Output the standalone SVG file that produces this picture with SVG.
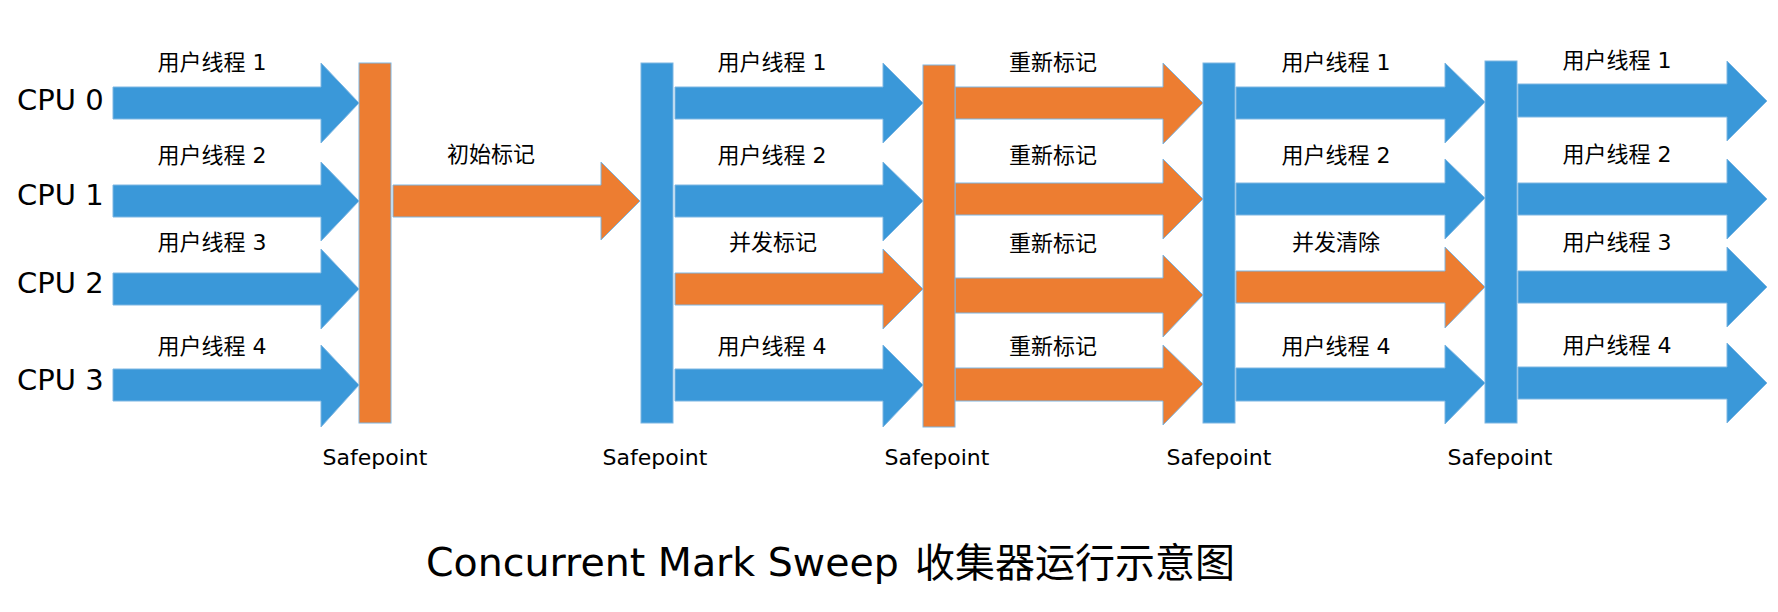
<svg xmlns="http://www.w3.org/2000/svg" width="1778" height="612" viewBox="0 0 1778 612">
<style>
.b{fill:#3A98D9;stroke:#7DB6E2;stroke-width:1}
.o{fill:#ED7D31;stroke:#7DB6E2;stroke-width:1}
.lbl{font-family:"DejaVu Sans","Noto Sans CJK SC",sans-serif;font-size:22px;fill:#000;text-anchor:middle}
.cpu{font-family:"DejaVu Sans",sans-serif;font-size:29px;fill:#000}
.sp{font-family:"DejaVu Sans",sans-serif;font-size:22px;fill:#000;text-anchor:middle}
.title{font-family:"DejaVu Sans",sans-serif;font-size:39.5px;fill:#000}
.titlecjk{font-family:"Noto Sans CJK SC",sans-serif;font-size:40px;fill:#000}
</style>
<rect width="1778" height="612" fill="#fff"/>

<g id="cpu-labels">
<text class="cpu" x="17" y="110">CPU 0</text>
<text class="cpu" x="17" y="205">CPU 1</text>
<text class="cpu" x="17" y="293">CPU 2</text>
<text class="cpu" x="17" y="390">CPU 3</text>
</g>

<g id="connectors">
<g id="c1r0"><polygon class="b" points="113,87 321,87 321,63 359,103 321,143 321,119 113,119"/><text class="lbl" x="212" y="70">用户线程 1</text></g>
<g id="c1r1"><polygon class="b" points="113,185 321,185 321,162 359,201 321,241 321,217 113,217"/><text class="lbl" x="212" y="163">用户线程 2</text></g>
<g id="c1r2"><polygon class="b" points="113,273 321,273 321,249 359,289 321,329 321,305 113,305"/><text class="lbl" x="212" y="250">用户线程 3</text></g>
<g id="c1r3"><polygon class="b" points="113,369 321,369 321,345 359,385 321,427 321,401 113,401"/><text class="lbl" x="212" y="354">用户线程 4</text></g>

<g id="init-mark"><polygon class="o" points="393,185 601,185 601,162 640,201 601,240 601,217 393,217"/><text class="lbl" x="491" y="162">初始标记</text></g>

<g id="c2r0"><polygon class="b" points="675,87 883,87 883,63 923,103 883,143 883,119 675,119"/><text class="lbl" x="772" y="70">用户线程 1</text></g>
<g id="c2r1"><polygon class="b" points="675,185 883,185 883,162 923,201 883,241 883,217 675,217"/><text class="lbl" x="772" y="163">用户线程 2</text></g>
<g id="c2r2"><polygon class="o" points="675,273 883,273 883,249 923,289 883,329 883,305 675,305"/><text class="lbl" x="773" y="250">并发标记</text></g>
<g id="c2r3"><polygon class="b" points="675,369 883,369 883,345 923,385 883,427 883,401 675,401"/><text class="lbl" x="772" y="354">用户线程 4</text></g>

<g id="c3r0"><polygon class="o" points="955,87 1163,87 1163,63 1203,103 1163,144 1163,119 955,119"/><text class="lbl" x="1053" y="70">重新标记</text></g>
<g id="c3r1"><polygon class="o" points="955,183 1163,183 1163,159 1203,199 1163,239 1163,215 955,215"/><text class="lbl" x="1053" y="163">重新标记</text></g>
<g id="c3r2"><polygon class="o" points="955,278 1163,278 1163,255 1203,295 1163,337 1163,313 955,313"/><text class="lbl" x="1053" y="251">重新标记</text></g>
<g id="c3r3"><polygon class="o" points="955,368 1163,368 1163,345 1203,384 1163,425 1163,401 955,401"/><text class="lbl" x="1053" y="354">重新标记</text></g>

<g id="c4r0"><polygon class="b" points="1236,87 1445,87 1445,63 1485,102 1445,143 1445,119 1236,119"/><text class="lbl" x="1336" y="70">用户线程 1</text></g>
<g id="c4r1"><polygon class="b" points="1236,183 1445,183 1445,159 1485,198 1445,239 1445,215 1236,215"/><text class="lbl" x="1336" y="163">用户线程 2</text></g>
<g id="c4r2"><polygon class="o" points="1236,271 1445,271 1445,247 1485,287 1445,328 1445,303 1236,303"/><text class="lbl" x="1336" y="250">并发清除</text></g>
<g id="c4r3"><polygon class="b" points="1236,368 1445,368 1445,345 1485,383 1445,424 1445,401 1236,401"/><text class="lbl" x="1336" y="354">用户线程 4</text></g>

<g id="c5r0"><polygon class="b" points="1518,84 1727,84 1727,61 1767,101 1727,141 1727,117 1518,117"/><text class="lbl" x="1617" y="68">用户线程 1</text></g>
<g id="c5r1"><polygon class="b" points="1518,183 1727,183 1727,159 1767,199 1727,239 1727,215 1518,215"/><text class="lbl" x="1617" y="162">用户线程 2</text></g>
<g id="c5r2"><polygon class="b" points="1518,271 1727,271 1727,247 1767,287 1727,327 1727,303 1518,303"/><text class="lbl" x="1617" y="250">用户线程 3</text></g>
<g id="c5r3"><polygon class="b" points="1518,367 1727,367 1727,343 1767,383 1727,423 1727,399 1518,399"/><text class="lbl" x="1617" y="353">用户线程 4</text></g>
</g>

<g id="safepoint1"><rect class="o" x="359" y="63" width="32" height="360"/><text class="sp" x="375" y="465">Safepoint</text></g>
<g id="safepoint2"><rect class="b" x="641" y="63" width="32" height="360"/><text class="sp" x="655" y="465">Safepoint</text></g>
<g id="safepoint3"><rect class="o" x="923" y="65" width="32" height="362"/><text class="sp" x="937" y="465">Safepoint</text></g>
<g id="safepoint4"><rect class="b" x="1203" y="63" width="32" height="360"/><text class="sp" x="1219" y="465">Safepoint</text></g>
<g id="safepoint5"><rect class="b" x="1485" y="61" width="32" height="362"/><text class="sp" x="1500" y="465">Safepoint</text></g>

<g id="title">
<text class="title" x="426" y="576">Concurrent Mark Sweep</text>
<text class="titlecjk" x="915" y="577">收集器运行示意图</text>
</g>
</svg>
